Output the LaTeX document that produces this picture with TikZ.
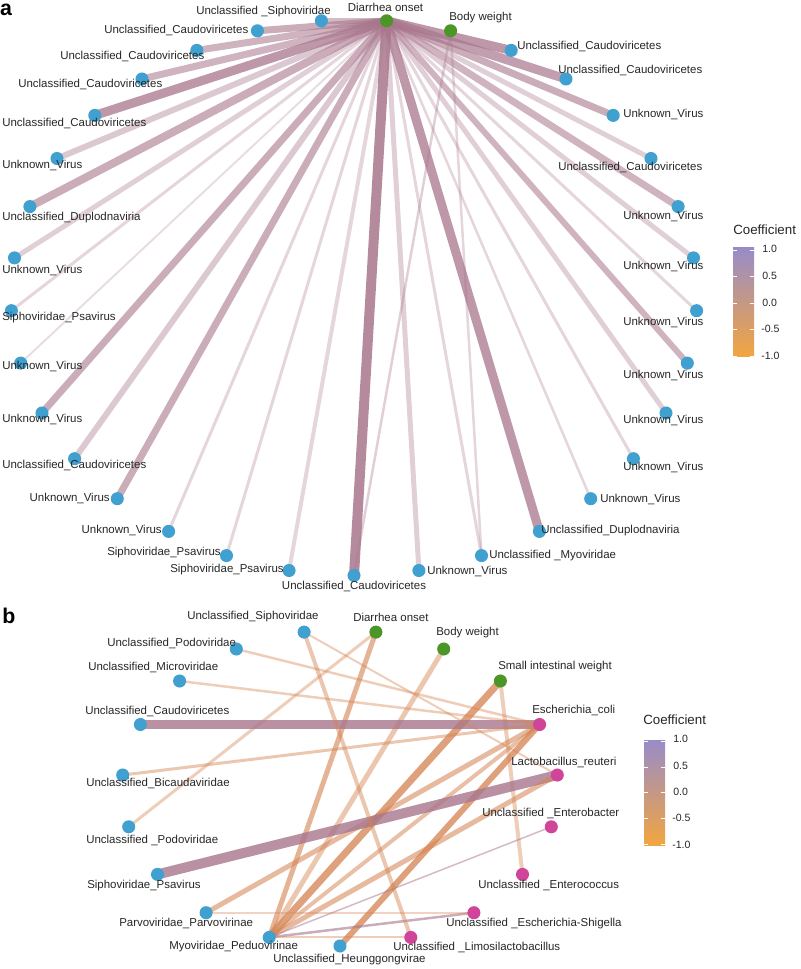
\documentclass[tikz,border=0pt]{standalone}
\usepackage{fontspec}
\setmainfont{Liberation Sans}
\usetikzlibrary{backgrounds}

\definecolor{virblue}{RGB}{64,160,207}
\definecolor{phegreen}{RGB}{76,150,40}
\definecolor{bacpink}{RGB}{208,68,154}
\definecolor{posmauve}{RGB}{168,118,140}
\definecolor{negorange}{RGB}{212,130,80}
\definecolor{legtop}{RGB}{152,140,200}
\definecolor{legmid}{RGB}{200,145,130}
\definecolor{legbot}{RGB}{242,165,65}

\tikzset{
	vir/.style={circle, fill=virblue, inner sep=0pt, minimum size=9.8pt},
	phe/.style={vir, fill=phegreen},
	bac/.style={vir, fill=bacpink},
	lab/.style={font=\fontsize{8.6}{10}\selectfont, text=black!85, inner sep=0pt},
	ticklab/.style={font=\fontsize{7.9}{9}\selectfont, text=black!85, inner sep=0pt, anchor=west},
	legtitle/.style={font=\fontsize{10}{12}\selectfont, text=black!85, inner sep=0pt, anchor=west},
	panel/.style={font=\fontsize{16}{18}\selectfont\bfseries, inner sep=0pt},
	pe/.style 2 args={draw=posmauve, line width=#1*0.75pt, draw opacity=#2, line cap=butt},
	ne/.style 2 args={draw=negorange, line width=#1*0.75pt, draw opacity=#2, line cap=butt},
}

\begin{document}
\begin{tikzpicture}[x=0.75pt,y=0.75pt,yscale=-1,xscale=1]
	\useasboundingbox (0,0) rectangle (800,969);
	
	% Panel a: nodes
	\node[phe] (a0) at (386.6,20.8) {};
	\node[phe] (a1) at (450.6,30.8) {};
	\node[vir] (a2) at (511.2,50.4) {};
	\node[vir] (a3) at (566.0,79.0) {};
	\node[vir] (a4) at (613.2,115.4) {};
	\node[vir] (a5) at (651.0,158.5) {};
	\node[vir] (a6) at (678.1,206.6) {};
	\node[vir] (a7) at (693.5,257.9) {};
	\node[vir] (a8) at (696.6,310.7) {};
	\node[vir] (a9) at (687.3,363.1) {};
	\node[vir] (a10) at (666.0,413.0) {};
	\node[vir] (a11) at (633.4,458.7) {};
	\node[vir] (a12) at (590.7,498.7) {};
	\node[vir] (a13) at (539.4,531.4) {};
	\node[vir] (a14) at (481.5,555.6) {};
	\node[vir] (a15) at (418.9,570.5) {};
	\node[vir] (a16) at (354.0,575.5) {};
	\node[vir] (a17) at (289.1,570.5) {};
	\node[vir] (a18) at (226.5,555.6) {};
	\node[vir] (a19) at (168.6,531.4) {};
	\node[vir] (a20) at (117.3,498.7) {};
	\node[vir] (a21) at (74.6,458.7) {};
	\node[vir] (a22) at (42.0,413.0) {};
	\node[vir] (a23) at (20.7,363.1) {};
	\node[vir] (a24) at (11.4,310.7) {};
	\node[vir] (a25) at (14.5,257.9) {};
	\node[vir] (a26) at (29.9,206.6) {};
	\node[vir] (a27) at (57.0,158.5) {};
	\node[vir] (a28) at (94.8,115.4) {};
	\node[vir] (a29) at (142.0,79.0) {};
	\node[vir] (a30) at (196.8,50.4) {};
	\node[vir] (a31) at (257.4,30.8) {};
	\node[vir] (a32) at (321.4,20.8) {};
	
	% Text Node
	\node[panel] (pa) at (6,10) {a};
	\node[lab] (ta0) at (385.5,7) {Diarrhea onset};
	\node[lab, anchor=west] (ta1) at (449,17.5) {Body weight};
	\node[lab, anchor=west] (ta2) at (517,46) {Unclassified\_Caudoviricetes};
	\node[lab, anchor=west] (ta3) at (558,70) {Unclassified\_Caudoviricetes};
	\node[lab, anchor=west] (ta4) at (623,114) {Unknown\_Virus};
	\node[lab, anchor=west] (ta5) at (558,167) {Unclassified\_Caudoviricetes};
	\node[lab, anchor=west] (ta6) at (623,216) {Unknown\_Virus};
	\node[lab, anchor=west] (ta7) at (623,266) {Unknown\_Virus};
	\node[lab, anchor=west] (ta8) at (623,322) {Unknown\_Virus};
	\node[lab, anchor=west] (ta9) at (623,375) {Unknown\_Virus};
	\node[lab, anchor=west] (ta10) at (623,420) {Unknown\_Virus};
	\node[lab, anchor=west] (ta11) at (623,467) {Unknown\_Virus};
	\node[lab, anchor=west] (ta12) at (600,499) {Unknown\_Virus};
	\node[lab, anchor=west] (ta13) at (541,531) {Unclassified\_Duplodnaviria};
	\node[lab, anchor=west] (ta14) at (489,556) {Unclassified \_Myoviridae};
	\node[lab, anchor=west] (ta15) at (427,571) {Unknown\_Virus};
	\node[lab] (ta16) at (354,586) {Unclassified\_Caudoviricetes};
	\node[lab, anchor=east] (ta17) at (284,570) {Siphoviridae\_Psavirus};
	\node[lab, anchor=east] (ta18) at (221,553) {Siphoviridae\_Psavirus};
	\node[lab, anchor=east] (ta19) at (162,530) {Unknown\_Virus};
	\node[lab, anchor=east] (ta20) at (110,498) {Unknown\_Virus};
	\node[lab, anchor=west] (ta21) at (2,465) {Unclassified\_Caudoviricetes};
	\node[lab, anchor=west] (ta22) at (2,419) {Unknown\_Virus};
	\node[lab, anchor=west] (ta23) at (2,366) {Unknown\_Virus};
	\node[lab, anchor=west] (ta24) at (2,318) {Siphoviridae\_Psavirus};
	\node[lab, anchor=west] (ta25) at (2,270) {Unknown\_Virus};
	\node[lab, anchor=west] (ta26) at (2,218) {Unclassified\_Duplodnaviria};
	\node[lab, anchor=west] (ta27) at (2,165) {Unknown\_Virus};
	\node[lab, anchor=west] (ta28) at (2,123) {Unclassified\_Caudoviricetes};
	\node[lab, anchor=west] (ta29) at (18,84) {Unclassified\_Caudoviricetes};
	\node[lab, anchor=west] (ta30) at (60,56) {Unclassified\_Caudoviricetes};
	\node[lab, anchor=west] (ta31) at (104,30) {Unclassified\_Caudoviricetes};
	\node[lab, anchor=west] (ta32) at (196,12) {Unclassified \_Siphoviridae};
	
	% Panel a: edges
	\begin{pgfonlayer}{background}
		\draw[pe={9}{.75}] (a0.center) -- (a2.center);
		\draw[pe={9}{.7}] (a0.center) -- (a3.center);
		\draw[pe={7}{.6}] (a0.center) -- (a4.center);
		\draw[pe={5}{.35}] (a0.center) -- (a5.center);
		\draw[pe={7}{.55}] (a0.center) -- (a6.center);
		\draw[pe={5}{.35}] (a0.center) -- (a7.center);
		\draw[pe={3}{.3}] (a0.center) -- (a8.center);
		\draw[pe={6}{.55}] (a0.center) -- (a9.center);
		\draw[pe={5}{.35}] (a0.center) -- (a10.center);
		\draw[pe={3}{.3}] (a0.center) -- (a11.center);
		\draw[pe={2.5}{.3}] (a0.center) -- (a12.center);
		\draw[pe={9}{.75}] (a0.center) -- (a13.center);
		\draw[pe={3}{.3}] (a0.center) -- (a14.center);
		\draw[pe={5}{.35}] (a0.center) -- (a15.center);
		\draw[pe={10}{.85}] (a0.center) -- (a16.center);
		\draw[pe={4}{.3}] (a0.center) -- (a17.center);
		\draw[pe={3}{.3}] (a0.center) -- (a18.center);
		\draw[pe={3}{.3}] (a0.center) -- (a19.center);
		\draw[pe={7}{.6}] (a0.center) -- (a20.center);
		\draw[pe={6}{.4}] (a0.center) -- (a21.center);
		\draw[pe={7}{.6}] (a0.center) -- (a22.center);
		\draw[pe={2}{.25}] (a0.center) -- (a23.center);
		\draw[pe={3}{.3}] (a0.center) -- (a24.center);
		\draw[pe={5}{.35}] (a0.center) -- (a25.center);
		\draw[pe={8}{.6}] (a0.center) -- (a26.center);
		\draw[pe={6}{.4}] (a0.center) -- (a27.center);
		\draw[pe={9}{.75}] (a0.center) -- (a28.center);
		\draw[pe={7}{.55}] (a0.center) -- (a29.center);
		\draw[pe={7}{.55}] (a0.center) -- (a30.center);
		\draw[pe={7}{.6}] (a0.center) -- (a31.center);
		\draw[pe={6}{.5}] (a0.center) -- (a32.center);
		\draw[pe={2.5}{.35}] (a1.center) -- (a16.center);
		\draw[pe={2.5}{.3}] (a1.center) -- (a14.center);
	\end{pgfonlayer}
	
	% Panel a: legend
	\node[legtitle] (lta) at (733,230) {Coefficient};
	\shade[top color=legtop, middle color=legmid, bottom color=legbot] (733,248) rectangle (754,356);
	\foreach \ty in {250,276.5,303,329.5,356}{
		\draw[white, line width=0.6pt] (733,\ty) -- (737,\ty) (750,\ty) -- (754,\ty);
	}
	\node[ticklab] (la1) at (762,249) {1.0};
	\node[ticklab] (la2) at (762,276) {0.5};
	\node[ticklab] (la3) at (762,303) {0.0};
	\node[ticklab] (la4) at (761,329) {-0.5};
	\node[ticklab] (la5) at (761,356) {-1.0};
	
	% Panel b: nodes
	\node[phe] (b0) at (375.9,632.1) {};
	\node[phe] (b1) at (443.7,649.0) {};
	\node[phe] (b2) at (500.4,681.0) {};
	\node[bac] (b3) at (539.6,724.5) {};
	\node[bac] (b4) at (557.3,775.0) {};
	\node[bac] (b5) at (551.3,826.8) {};
	\node[bac] (b6) at (522.5,874.4) {};
	\node[bac] (b7) at (473.9,912.7) {};
	\node[bac] (b8) at (410.8,937.4) {};
	\node[vir] (b9) at (340.0,946.0) {};
	\node[vir] (b10) at (269.2,937.4) {};
	\node[vir] (b11) at (206.1,912.7) {};
	\node[vir] (b12) at (157.5,874.4) {};
	\node[vir] (b13) at (128.7,826.8) {};
	\node[vir] (b14) at (122.7,775.0) {};
	\node[vir] (b15) at (140.4,724.5) {};
	\node[vir] (b16) at (179.6,681.0) {};
	\node[vir] (b17) at (236.3,649.0) {};
	\node[vir] (b18) at (304.1,632.1) {};
	
	% Text Node
	\node[panel] (pb) at (9,616) {b};
	\node[lab, anchor=west] (tb0) at (353,617) {Diarrhea onset};
	\node[lab, anchor=west] (tb1) at (436,633) {Body weight};
	\node[lab, anchor=west] (tb2) at (498,667) {Small intestinal weight};
	\node[lab, anchor=west] (tb3) at (532,710) {Escherichia\_coli};
	\node[lab, anchor=west] (tb4) at (511,762) {Lactobacillus\_reuteri};
	\node[lab, anchor=west] (tb5) at (482,813) {Unclassified \_Enterobacter};
	\node[lab, anchor=west] (tb6) at (478,885) {Unclassified \_Enterococcus};
	\node[lab, anchor=west] (tb7) at (446,924) {Unclassified \_Escherichia-Shigella};
	\node[lab, anchor=west] (tb8) at (393,947) {Unclassified \_Limosilactobacillus};
	\node[lab, anchor=west] (tb9) at (273,960) {Unclassified\_Heunggongvirae};
	\node[lab, anchor=west] (tb10) at (169,947) {Myoviridae\_Peduovirinae};
	\node[lab, anchor=west] (tb11) at (119,923) {Parvoviridae\_Parvovirinae};
	\node[lab, anchor=west] (tb12) at (87,886) {Siphoviridae\_Psavirus};
	\node[lab, anchor=west] (tb13) at (86,840) {Unclassified \_Podoviridae};
	\node[lab, anchor=west] (tb14) at (86,783) {Unclassified\_Bicaudaviridae};
	\node[lab, anchor=west] (tb15) at (85,711) {Unclassified\_Caudoviricetes};
	\node[lab, anchor=west] (tb16) at (88,667) {Unclassified\_Microviridae};
	\node[lab, anchor=west] (tb17) at (107,643) {Unclassified\_Podoviridae};
	\node[lab, anchor=west] (tb18) at (187,617) {Unclassified\_Siphoviridae};
	
	% Panel b: edges
	\begin{pgfonlayer}{background}
		\draw[ne={5}{.6}] (b0.center) -- (b10.center);
		\draw[ne={3}{.4}] (b0.center) -- (b13.center);
		\draw[ne={5}{.45}] (b1.center) -- (b10.center);
		\draw[ne={7}{.75}] (b2.center) -- (b10.center);
		\draw[ne={4}{.4}] (b2.center) -- (b6.center);
		\draw[pe={9}{.8}] (b15.center) -- (b3.center);
		\draw[ne={2.5}{.4}] (b16.center) -- (b3.center);
		\draw[ne={2.5}{.4}] (b17.center) -- (b3.center);
		\draw[ne={3}{.45}] (b14.center) -- (b3.center);
		\draw[ne={5}{.55}] (b11.center) -- (b3.center);
		\draw[ne={6}{.75}] (b9.center) -- (b3.center);
		\draw[ne={4}{.5}] (b10.center) -- (b3.center);
		\draw[pe={10}{.8}] (b12.center) -- (b4.center);
		\draw[ne={5}{.55}] (b10.center) -- (b4.center);
		\draw[ne={2}{.4}] (b18.center) -- (b4.center);
		\draw[pe={1.5}{.5}] (b10.center) -- (b5.center);
		\draw[pe={2.5}{.6}] (b10.center) -- (b7.center);
		\draw[ne={2}{.35}] (b11.center) -- (b7.center);
		\draw[ne={2}{.4}] (b10.center) -- (b8.center);
		\draw[ne={4}{.45}] (b18.center) -- (b8.center);
	\end{pgfonlayer}
	
	% Panel b: legend
	\node[legtitle] (ltb) at (643,720) {Coefficient};
	\shade[top color=legtop, middle color=legmid, bottom color=legbot] (644,740) rectangle (665,845);
	\foreach \ty in {741,767,792.5,818.5,844}{
		\draw[white, line width=0.6pt] (644,\ty) -- (648,\ty) (661,\ty) -- (665,\ty);
	}
	\node[ticklab] (lb1) at (673,739) {1.0};
	\node[ticklab] (lb2) at (673,765.5) {0.5};
	\node[ticklab] (lb3) at (673,792) {0.0};
	\node[ticklab] (lb4) at (672,818) {-0.5};
	\node[ticklab] (lb5) at (672,845) {-1.0};
	
\end{tikzpicture}
\end{document}
